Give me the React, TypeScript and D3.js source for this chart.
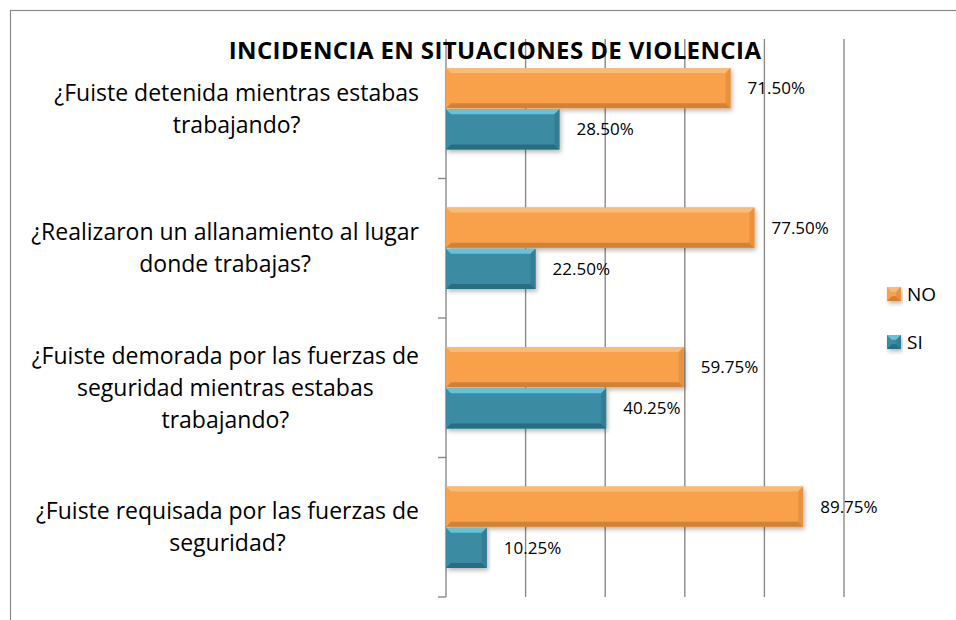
import React from "react";
import * as d3 from "d3";

const categories: string[][] = [
  ["¿Fuiste detenida mientras estabas", "trabajando?"],
  ["¿Realizaron un allanamiento al lugar", "donde trabajas?"],
  ["¿Fuiste demorada por las fuerzas de", "seguridad mientras estabas", "trabajando?"],
  ["¿Fuiste requisada por las fuerzas de", "seguridad?"],
];
const noValues = [71.5, 77.5, 59.75, 89.75];
const siValues = [28.5, 22.5, 40.25, 10.25];
const seriesNames = ["NO", "SI"];
const xTicks = [0, 20, 40, 60, 80, 100];
const title = "INCIDENCIA EN SITUACIONES DE VIOLENCIA";

const W = 956;
const H = 620;
const FONT = "'Open Sans', Lato, sans-serif";
const LABEL_SIZE = 23;

const palettes = {
  NO: { face: "#F9A04C", light: "#FBBB74", dark: "#D08238", side: "#E8923F" },
  SI: { face: "#3A8CA3", light: "#63C3DC", dark: "#2A6C80", side: "#327F95" },
};

function Bevel({ x, y, w, h, p }: { x: number; y: number; w: number; h: number; p: typeof palettes.NO }) {
  const b = Math.min(5, w / 3);
  return (
    <g filter="url(#shadow)">
      <rect x={x} y={y} width={w} height={h} fill={p.face} />
      <polygon points={`${x},${y} ${x + w},${y} ${x + w - b},${y + b} ${x + b},${y + b}`} fill={p.light} />
      <polygon points={`${x},${y + h} ${x + w},${y + h} ${x + w - b},${y + h - b} ${x + b},${y + h - b}`} fill={p.dark} />
      <polygon points={`${x + w},${y} ${x + w},${y + h} ${x + w - b},${y + h - b} ${x + w - b},${y + b}`} fill={p.side} />
    </g>
  );
}

function measure(lines: string[]): number {
  const c = document.createElement("canvas").getContext("2d");
  if (!c) return 370;
  c.font = `${LABEL_SIZE}px ${FONT}`;
  return Math.max(...lines.map((l) => c.measureText(l).width));
}

export default function App() {
  const x = d3.scaleLinear().domain([0, 100]).range([446, 844]);
  const y = d3.scaleBand<number>().domain(d3.range(categories.length)).range([39, 597]);
  const inner = d3.scaleBand<string>().domain(seriesNames).range([29, y.bandwidth() - 29]).paddingInner(0.03);
  const widths = React.useMemo(() => categories.map(measure), []);
  const labelRight = 419;

  return (
    <svg width={W} height={H} style={{ position: "absolute", left: 0, top: 0 }}>
      <defs>
        <filter id="shadow" x="-5%" y="-20%" width="115%" height="160%">
          <feDropShadow dx="1.5" dy="2.5" stdDeviation="2" floodColor="#000" floodOpacity="0.28" />
        </filter>
      </defs>
      <rect x={0} y={0} width={W} height={H} fill="#fff" />
      <rect x={10.5} y={10.5} width={W + 20} height={H + 20} fill="none" stroke="#8c8c8c" strokeWidth={1.2} />

      {xTicks.slice(1).map((t) => (
        <line key={t} x1={x(t)} x2={x(t)} y1={39} y2={597} stroke="#8a8a8a" strokeWidth={1.4} />
      ))}
      <line x1={x(0)} x2={x(0)} y1={39} y2={597} stroke="#8a8a8a" strokeWidth={1.4} />
      {d3.range(1, categories.length + 1).map((i) => {
        const yy = i === categories.length ? 597 : (y(i) as number);
        return <line key={i} x1={x(0) - 8} x2={x(0)} y1={yy} y2={yy} stroke="#8a8a8a" strokeWidth={1.4} />;
      })}

      {categories.map((lines, i) => {
        const cy = (y(i) as number) + y.bandwidth() / 2;
        const lh = 32;
        const y0 = cy - ((lines.length - 1) * lh) / 2;
        const cx = labelRight - widths[i] / 2;
        return (
          <text key={i} textAnchor="middle" fontFamily={FONT} fontSize={LABEL_SIZE} fill="#000">
            {lines.map((l, j) => (
              <tspan key={j} x={cx} y={y0 + j * lh} dy="0.35em">
                {l}
              </tspan>
            ))}
          </text>
        );
      })}

      {categories.map((_, i) => {
        const by = y(i) as number;
        const vals = [noValues[i], siValues[i]];
        return (
          <g key={i}>
            {seriesNames.map((s, k) => {
              const yy = by + (inner(s) as number);
              const w = x(vals[k]) - x(0);
              return (
                <g key={s}>
                  <Bevel x={x(0)} y={yy} w={w} h={inner.bandwidth()} p={palettes[s as "NO" | "SI"]} />
                  <text x={x(vals[k]) + 17} y={yy + inner.bandwidth() / 2} dy="0.35em" fontFamily={FONT} fontSize={17} fill="#000">
                    {vals[k].toFixed(2)}%
                  </text>
                </g>
              );
            })}
          </g>
        );
      })}

      <text x={495} y={59} textAnchor="middle" fontFamily={FONT} fontWeight="bold" fontSize={24} letterSpacing={0.4} fill="#000">
        {title}
      </text>

      {seriesNames.map((s, k) => {
        const ly = 294 + k * 48;
        const p = palettes[s as "NO" | "SI"];
        return (
          <g key={s}>
            <Bevel x={887} y={ly - 7} w={14} h={14} p={p} />
            <text x={907} y={ly} dy="0.35em" fontFamily={FONT} fontSize={19} fill="#000">
              {s}
            </text>
          </g>
        );
      })}
    </svg>
  );
}
